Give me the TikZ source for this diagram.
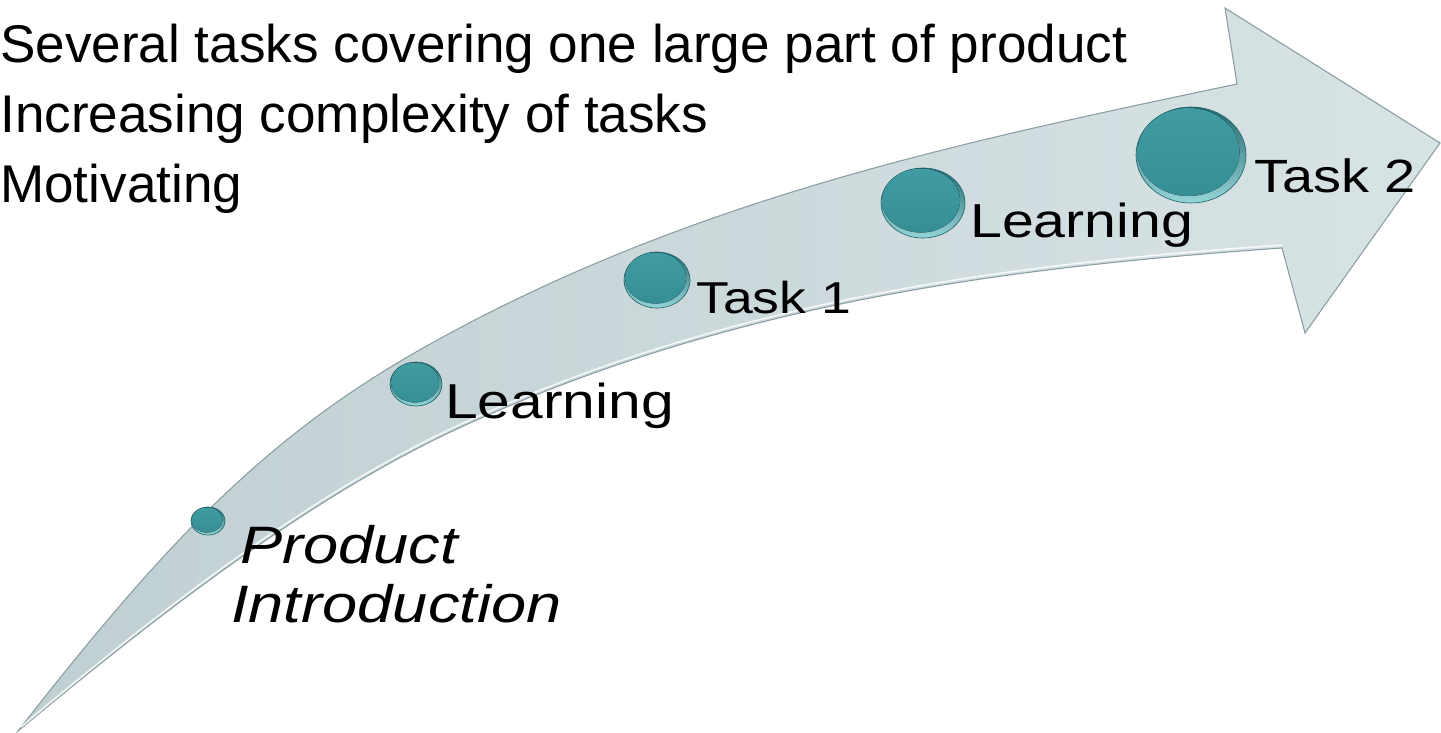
\documentclass[tikz,border=0pt]{standalone}
\usepackage{fontspec}
\setmainfont{Liberation Sans}
\newfontfamily\stagefont[FakeStretch=1.2]{Liberation Sans}
\definecolor{arrowL}{RGB}{192,207,210}
\definecolor{arrowR}{RGB}{216,227,229}
\definecolor{rimD}{RGB}{34,104,110}
\definecolor{rimL}{RGB}{150,212,215}
\definecolor{faceT}{RGB}{64,156,162}
\definecolor{faceB}{RGB}{54,142,148}

\begin{document}
\begin{tikzpicture}[x=0.75pt,y=0.75pt,yscale=-1,xscale=1,
  rim/.style={draw=rimD, line width=0.5pt, top color=rimD, bottom color=rimL},
  face/.style={top color=faceT, bottom color=faceB},
  bullet/.style={anchor=base west, inner sep=0pt, font=\fontsize{39.8}{47}\selectfont},
  stage/.style={anchor=base west, inner sep=0pt}]
\useasboundingbox (0,0) rectangle (1441,732);

%Shape: Curved Arrow [id:dp1]
\draw  [color={rgb, 255:red, 138; green, 158; blue, 162 }  ,line width=0.8pt ,left color=arrowL ,right color=arrowR ] (18,731) .. controls (167,540) and (266,438) .. (416,352) .. controls (686,198) and (967,141) .. (1237,84) -- (1225,8) -- (1440,143) -- (1305,333) -- (1282,248) .. controls (1012,267) and (740,301) .. (470,423) .. controls (320,490) and (167,607) .. (18,731) -- cycle ;
%Curve Lines [id:dp2]
\draw  [color={rgb, 255:red, 255; green, 255; blue, 255 }  ,draw opacity=0.8 ,line width=1.2pt ] (1282,245) .. controls (1012,264) and (740,298) .. (470,420) .. controls (320,487) and (167,604) .. (21,727) ;

%Shape: Ellipse [id:dp3]
\draw  [rim] (208,521) ellipse (17 and 14) ;
\fill  [face] (207,520) ellipse (15.5 and 12.5) ;
%Shape: Ellipse [id:dp4]
\draw  [rim] (416,384) ellipse (26 and 22) ;
\fill  [face] (415,382.5) ellipse (24 and 20) ;
%Shape: Ellipse [id:dp5]
\draw  [rim] (657,280) ellipse (33 and 28) ;
\fill  [face] (655.5,278) ellipse (30.5 and 25.5) ;
%Shape: Ellipse [id:dp6]
\draw  [rim] (923,203) ellipse (42 and 35) ;
\fill  [face] (921,200.5) ellipse (39 and 32) ;
%Shape: Ellipse [id:dp7]
\draw  [rim] (1191,155) ellipse (55 and 48) ;
\fill  [face] (1188.5,152) ellipse (51 and 44) ;

% Text Node
\draw (0,62) node [bullet] (several) {Several tasks covering one large part of product};
% Text Node
\draw (0,132) node [bullet] (increasing) {Increasing complexity of tasks};
% Text Node
\draw (0,202) node [bullet] (motivating) {Motivating};
% Text Node
\draw (240,563) node [stage, font=\stagefont\itshape\fontsize{39.5}{47}\selectfont] (product) {Product};
% Text Node
\draw (231,622) node [stage, font=\stagefont\itshape\fontsize{39.5}{47}\selectfont] (intro) {Introduction};
% Text Node
\draw (445,418) node [stage, font=\stagefont\fontsize{36.75}{44}\selectfont] (learnA) {Learning};
% Text Node
\draw (696,313) node [stage, font=\stagefont\fontsize{33.5}{40}\selectfont] (taskA) {Task 1};
% Text Node
\draw (970,237) node [stage, font=\stagefont\fontsize{35.75}{42}\selectfont] (learnB) {Learning};
% Text Node
\draw (1254,192) node [stage, font=\stagefont\fontsize{35}{40}\selectfont] (taskB) {Task 2};

\end{tikzpicture}
\end{document}
